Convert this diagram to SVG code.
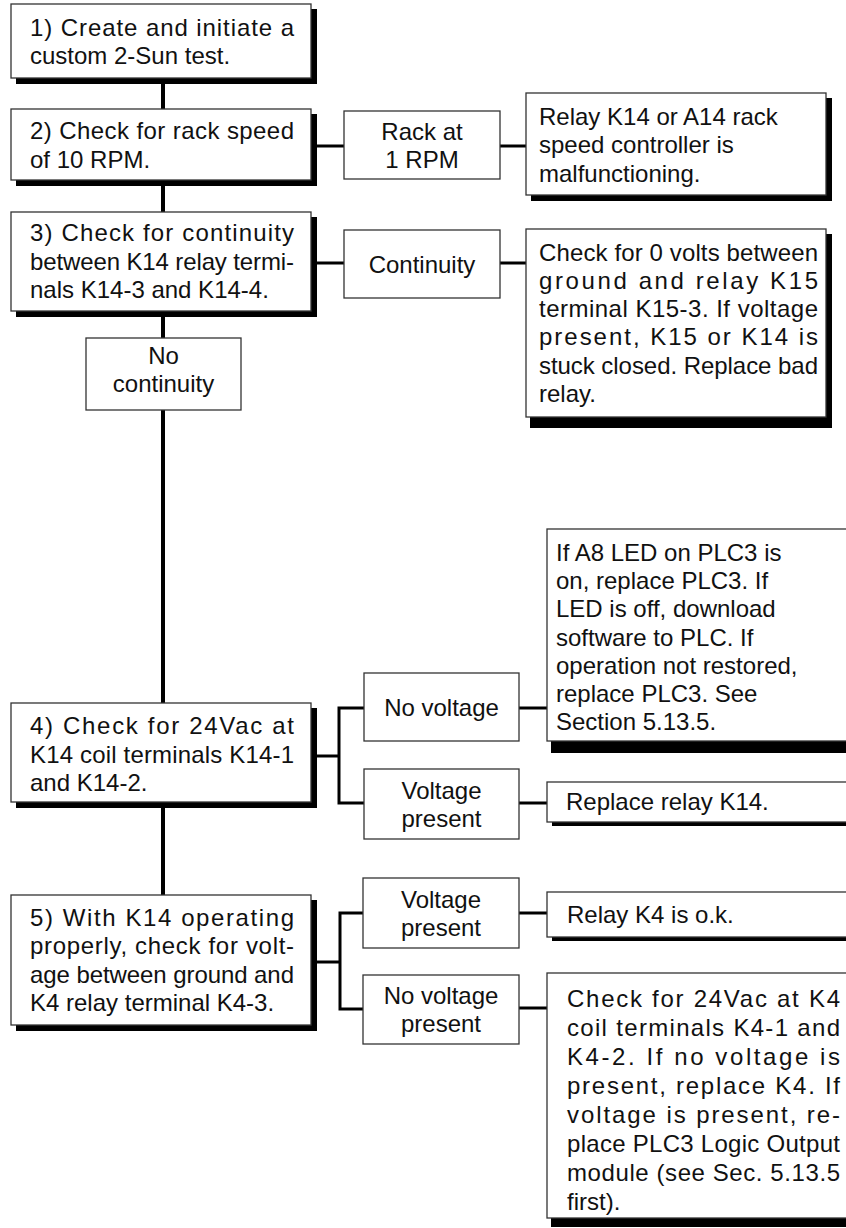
<svg xmlns="http://www.w3.org/2000/svg" width="846" height="1228" viewBox="0 0 846 1228">
<style>
.bg{fill:#fff}
.box{fill:#fff;stroke:#333;stroke-width:1.3}
.sh{fill:#000}
.t{font-family:'Liberation Sans',Arial,Helvetica,sans-serif;font-size:24px;fill:#111}
.c{text-anchor:middle}
.ln{stroke:#000;stroke-width:3;fill:none}
.main{stroke:#000;stroke-width:4;fill:none}
</style>
<rect class="bg" x="0" y="0" width="846" height="1228"/>
<g id="connectors">
  <line class="main" x1="163" y1="78" x2="163" y2="895"/>
  <line class="ln" x1="311" y1="146" x2="344" y2="146"/>
  <line class="ln" x1="500" y1="146" x2="526" y2="146"/>
  <line class="ln" x1="311" y1="263" x2="344" y2="263"/>
  <line class="ln" x1="500" y1="263" x2="526" y2="263"/>
  <line class="ln" x1="311" y1="756" x2="339" y2="756"/>
  <polyline class="ln" points="364,708 339,708 339,803 364,803"/>
  <line class="ln" x1="519" y1="708" x2="547" y2="708"/>
  <line class="ln" x1="519" y1="803" x2="547" y2="803"/>
  <line class="ln" x1="311" y1="962" x2="340" y2="962"/>
  <polyline class="ln" points="363,913 340,913 340,1009 363,1009"/>
  <line class="ln" x1="519" y1="913" x2="547" y2="913"/>
  <line class="ln" x1="519" y1="1008" x2="547" y2="1008"/>
</g>
<g id="n1">
  <rect class="sh" x="16" y="9" width="301" height="75"/>
  <rect class="box" x="11" y="4" width="300" height="74"/>
  <text class="t" x="30" y="35.5" textLength="264" lengthAdjust="spacing">1) Create and initiate a</text>
  <text class="t" x="30" y="64">custom 2-Sun test.</text>
</g>
<g id="n2">
  <rect class="sh" x="16" y="114" width="301" height="72"/>
  <rect class="box" x="11" y="109" width="300" height="71"/>
  <text class="t" x="30" y="139" textLength="264" lengthAdjust="spacing">2) Check for rack speed</text>
  <text class="t" x="30" y="167.5">of 10 RPM.</text>
</g>
<g id="n3">
  <rect class="sh" x="16" y="217" width="301" height="100"/>
  <rect class="box" x="11" y="212" width="300" height="99"/>
  <text class="t" x="30" y="241" textLength="264" lengthAdjust="spacing">3) Check for continuity</text>
  <text class="t" x="30" y="269.5" textLength="264" lengthAdjust="spacing">between K14 relay termi-</text>
  <text class="t" x="30" y="298">nals K14-3 and K14-4.</text>
</g>
<g id="rack">
  <rect class="box" x="344" y="111" width="156" height="68"/>
  <text class="t c" x="422" y="139.5">Rack at</text>
  <text class="t c" x="422" y="168">1 RPM</text>
</g>
<g id="relayK14">
  <rect class="sh" x="531" y="98" width="301" height="103"/>
  <rect class="box" x="526" y="93" width="300" height="102"/>
  <text class="t" x="539" y="124.5">Relay K14 or A14 rack</text>
  <text class="t" x="539" y="153">speed controller is</text>
  <text class="t" x="539" y="181.5">malfunctioning.</text>
</g>
<g id="continuity">
  <rect class="box" x="344" y="230" width="156" height="68"/>
  <text class="t c" x="422" y="272.5">Continuity</text>
</g>
<g id="check0">
  <rect class="sh" x="530" y="234" width="302" height="194"/>
  <rect class="box" x="526" y="229" width="300" height="188"/>
  <text class="t" x="539" y="260.5" textLength="279" lengthAdjust="spacing">Check for 0 volts between</text>
  <text class="t" x="539" y="288.8" textLength="279" lengthAdjust="spacing">ground and relay K15</text>
  <text class="t" x="539" y="317.1" textLength="279" lengthAdjust="spacing">terminal K15-3. If voltage</text>
  <text class="t" x="539" y="345.4" textLength="279" lengthAdjust="spacing">present, K15 or K14 is</text>
  <text class="t" x="539" y="373.7" textLength="279" lengthAdjust="spacing">stuck closed. Replace bad</text>
  <text class="t" x="539" y="402">relay.</text>
</g>
<g id="nocont">
  <rect class="box" x="86" y="338" width="155" height="72"/>
  <text class="t c" x="163.5" y="363.5">No</text>
  <text class="t c" x="163.5" y="392">continuity</text>
</g>
<g id="a8">
  <rect class="sh" x="551" y="534" width="302" height="219"/>
  <rect class="box" x="547" y="529" width="300" height="212"/>
  <text class="t" x="556" y="561">If A8 LED on PLC3 is</text>
  <text class="t" x="556" y="589.2">on, replace PLC3. If</text>
  <text class="t" x="556" y="617.4">LED is off, download</text>
  <text class="t" x="556" y="645.6">software to PLC. If</text>
  <text class="t" x="556" y="673.8">operation not restored,</text>
  <text class="t" x="556" y="702">replace PLC3. See</text>
  <text class="t" x="556" y="730.2">Section 5.13.5.</text>
</g>
<g id="n4">
  <rect class="sh" x="16" y="708" width="301" height="100"/>
  <rect class="box" x="11" y="703" width="300" height="99"/>
  <text class="t" x="30" y="734" textLength="264" lengthAdjust="spacing">4) Check for 24Vac at</text>
  <text class="t" x="30" y="762.5" textLength="264" lengthAdjust="spacing">K14 coil terminals K14-1</text>
  <text class="t" x="30" y="791">and K14-2.</text>
</g>
<g id="novolt">
  <rect class="box" x="364" y="673" width="155" height="68"/>
  <text class="t c" x="441.5" y="715.5">No voltage</text>
</g>
<g id="vpres">
  <rect class="box" x="364" y="769" width="155" height="70"/>
  <text class="t c" x="441.5" y="798.5">Voltage</text>
  <text class="t c" x="441.5" y="827">present</text>
</g>
<g id="replaceK14">
  <rect class="sh" x="552" y="787" width="301" height="39"/>
  <rect class="box" x="547" y="782" width="300" height="40"/>
  <text class="t" x="566" y="810">Replace relay K14.</text>
</g>
<g id="n5">
  <rect class="sh" x="16" y="900" width="301" height="131"/>
  <rect class="box" x="11" y="895" width="300" height="130"/>
  <text class="t" x="30" y="925.5" textLength="264" lengthAdjust="spacing">5) With K14 operating</text>
  <text class="t" x="30" y="954" textLength="264" lengthAdjust="spacing">properly, check for volt-</text>
  <text class="t" x="30" y="982.5" textLength="264" lengthAdjust="spacing">age between ground and</text>
  <text class="t" x="30" y="1011">K4 relay terminal K4-3.</text>
</g>
<g id="vpres2">
  <rect class="box" x="363" y="878" width="156" height="70"/>
  <text class="t c" x="441" y="907.5">Voltage</text>
  <text class="t c" x="441" y="936">present</text>
</g>
<g id="novpres">
  <rect class="box" x="363" y="975" width="156" height="69"/>
  <text class="t c" x="441" y="1003.5">No voltage</text>
  <text class="t c" x="441" y="1032">present</text>
</g>
<g id="relayK4">
  <rect class="sh" x="552" y="897" width="301" height="44"/>
  <rect class="box" x="547" y="892" width="300" height="45"/>
  <text class="t" x="567" y="923">Relay K4 is o.k.</text>
</g>
<g id="checkK4">
  <rect class="sh" x="551" y="978" width="302" height="249"/>
  <rect class="box" x="547" y="973" width="300" height="245"/>
  <text class="t" x="567" y="1007" textLength="273" lengthAdjust="spacing">Check for 24Vac at K4</text>
  <text class="t" x="567" y="1036" textLength="273" lengthAdjust="spacing">coil terminals K4-1 and</text>
  <text class="t" x="567" y="1065" textLength="273" lengthAdjust="spacing">K4-2. If no voltage  is</text>
  <text class="t" x="567" y="1094" textLength="273" lengthAdjust="spacing">present, replace K4. If</text>
  <text class="t" x="567" y="1123" textLength="273" lengthAdjust="spacing">voltage is present, re-</text>
  <text class="t" x="567" y="1152" textLength="273" lengthAdjust="spacing">place PLC3 Logic Output</text>
  <text class="t" x="567" y="1181" textLength="273" lengthAdjust="spacing">module (see Sec. 5.13.5</text>
  <text class="t" x="567" y="1210">first).</text>
</g>
</svg>
